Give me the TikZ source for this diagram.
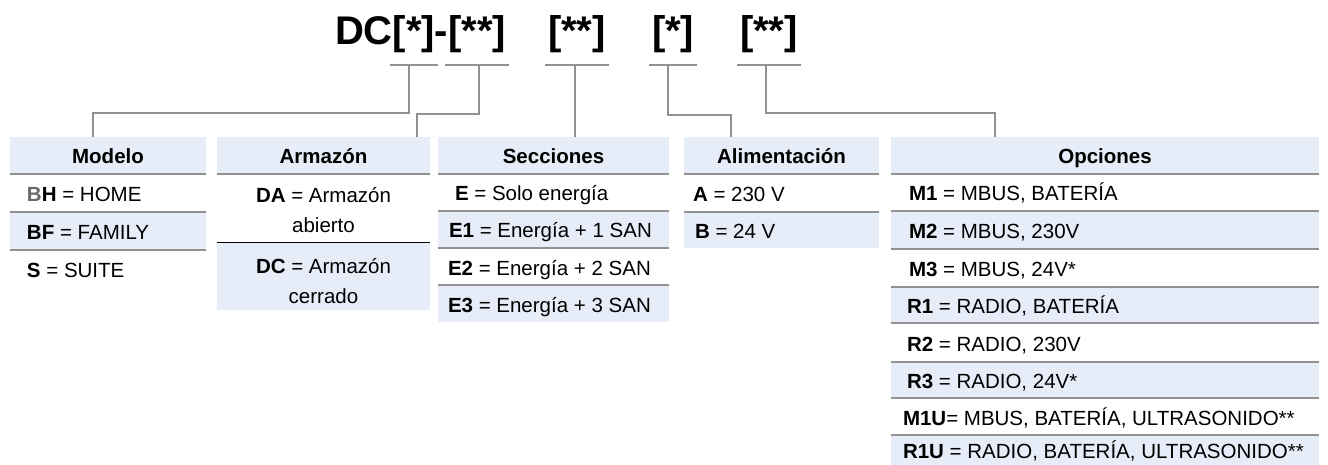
\documentclass[tikz,border=0pt]{standalone}
\usepackage{fontspec}
\setmainfont{Liberation Sans}
\usetikzlibrary{calc}
\definecolor{rowblue}{RGB}{231,237,248}
\definecolor{lineg}{RGB}{145,145,145}
\definecolor{keyg}{RGB}{105,105,105}
\newcommand\bodyfont{\fontsize{20.5}{30}\selectfont}
\newcommand\hdrfont{\fontsize{20.5}{24}\selectfont\bfseries}
\tikzset{
  ttl/.style={anchor=base west, inner sep=0pt, outer sep=0pt, font=\fontsize{40}{48}\selectfont\bfseries},
  ul/.style={draw=lineg, line width=1.3pt, shorten <=-3pt, shorten >=-3pt},
  conn/.style={draw=lineg, line width=1.3pt},
  rowbox/.style={anchor=north west, inner sep=0pt, outer sep=0pt, text height=17pt, text depth=0pt, font=\bodyfont},
  rowtwo/.style={anchor=north west, inner sep=0pt, outer sep=0pt, font=\bodyfont},
  hdrbox/.style={anchor=north west, inner sep=0pt, outer sep=0pt, fill=rowblue, text height=17pt, text depth=0pt, font=\hdrfont, minimum height=37pt},
  sepl/.style={draw=lineg, line width=1.2pt}
}
\newcommand\rowL[8]{\node[rowbox, fill=#6, minimum width=#4pt, minimum height=#5pt] (#1) at (#2,#3) {\makebox[#4pt][l]{\hspace*{#7pt}#8}};}
\newcommand\hdr[5]{\node[hdrbox, minimum width=#4pt] (#1) at (#2,#3) {\makebox[#4pt][c]{#5}};}
\begin{document}
\begin{tikzpicture}[x=1pt,y=-1pt]
\useasboundingbox (0,0) rectangle (1328,465);
% title
\node[ttl] (dc) at (335,45) {DC};
\node[ttl] (b1) at (dc.base east) {[*]};
\node[ttl] (hy) at (b1.base east) {-};
\node[ttl] (b2) at (hy.base east) {[**]};
\node[ttl] (b3) at (548,45) {[**]};
\node[ttl] (b4) at (652,45) {[*]};
\node[ttl] (b5) at (740,45) {[**]};
\foreach \b in {b1,b2,b3,b4,b5}
  \draw[ul] (\b.west |- 0,65) -- (\b.east |- 0,65);
\coordinate (u1) at (409,65);
\coordinate (u2) at (479,65);
\coordinate (u3) at (575,65);
\coordinate (u4) at (668,65);
\coordinate (u5) at (766,65);
% tables
\hdr{hmod}{10}{137}{196}{Modelo}
\rowL{m1}{10}{174}{196}{38}{white}{17}{\textbf{\textcolor{keyg}{B}H} = HOME}
\rowL{m2}{10}{212}{196}{38}{rowblue}{17}{\textbf{BF} = FAMILY}
\rowL{m3}{10}{250}{196}{38}{white}{17}{\textbf{S} = SUITE}
\hdr{harm}{217}{137}{213}{Armazón}
\node[rowtwo, fill=white, minimum width=213pt, minimum height=69pt, text height=29pt, text depth=40pt] (a1) at (217,174) {\parbox[t]{213pt}{\centering\textbf{DA} = Armazón\\abierto}};
\node[rowtwo, fill=rowblue, minimum width=213pt, minimum height=67pt, text height=30pt, text depth=37pt] (a2) at (217,243) {\parbox[t]{213pt}{\centering\textbf{DC} = Armazón\\cerrado}};
\hdr{hsec}{438}{137}{231}{Secciones}
\rowL{s1}{438}{174}{231}{37}{white}{17}{\textbf{E} = Solo energía}
\rowL{s2}{438}{211}{231}{37}{rowblue}{11}{\textbf{E1} = Energía + 1 SAN}
\rowL{s3}{438}{248}{231}{37}{white}{10}{\textbf{E2} = Energía + 2 SAN}
\rowL{s4}{438}{285}{231}{37}{rowblue}{10}{\textbf{E3} = Energía + 3 SAN}
\hdr{hali}{684}{137}{195}{Alimentación}
\rowL{al1}{684}{174}{195}{38}{white}{9}{\textbf{A} = 230 V}
\rowL{al2}{684}{212}{195}{36}{rowblue}{11}{\textbf{B} = 24 V}
\hdr{hopc}{891}{137}{428}{Opciones}
\rowL{o1}{891}{174}{428}{37}{white}{18}{\textbf{M1} = MBUS, BATERÍA}
\rowL{o2}{891}{211}{428}{38}{rowblue}{18}{\textbf{M2} = MBUS, 230V}
\rowL{o3}{891}{249}{428}{38}{white}{18}{\textbf{M3} = MBUS, 24V*}
\rowL{o4}{891}{287}{428}{36}{rowblue}{16}{\textbf{R1} = RADIO, BATERÍA}
\rowL{o5}{891}{323}{428}{39}{white}{16}{\textbf{R2} = RADIO, 230V}
\rowL{o6}{891}{362}{428}{36}{rowblue}{16}{\textbf{R3} = RADIO, 24V*}
\rowL{o7}{891}{398}{428}{37}{white}{12}{\textbf{M1U}= MBUS, BATERÍA, ULTRASONIDO**}
\rowL{o8}{891}{435}{428}{30}{rowblue}{12}{\textbf{R1U} = RADIO, BATERÍA, ULTRASONIDO**}
% separators
\foreach \n in {m1,m2,m3,a1,s1,s2,s3,s4,al1,al2,o1,o2,o3,o4,o5,o6,o7,o8}
  \draw[sepl] (\n.north west) -- (\n.north east);
\draw[black, line width=1pt] (a2.north west) -- (a2.north east);
% connectors
\draw[conn] (u1) -- (u1 |- 0,113) -| (hmod.north -| 93,0);
\draw[conn] (u2) -- (u2 |- 0,114) -| (harm.north -| 417,0);
\draw[conn] (u3) -- (hsec.north -| u3);
\draw[conn] (u4) -- (u4 |- 0,115) -| (hali.north -| 731,0);
\draw[conn] (u5) -- (u5 |- 0,113) -| (hopc.north -| 995,0);
\end{tikzpicture}
\end{document}
